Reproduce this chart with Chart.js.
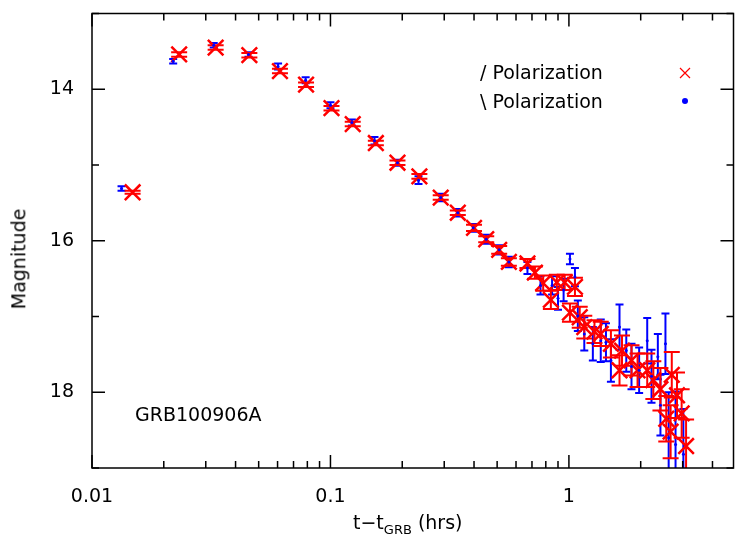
<!DOCTYPE html>
<html>
<head>
<meta charset="utf-8">
<script src="https://cdn.jsdelivr.net/npm/chart.js@4/dist/chart.umd.min.js"></script>
<style>
body{margin:0;background:#fff;font-family:"DejaVu Sans",sans-serif;}
#wrap{position:relative;width:747px;height:545px;}
.t{position:absolute;color:#000;font-size:19px;white-space:nowrap;}
</style>
</head>
<body>
<div id="wrap">
<canvas id="c" width="747" height="545"></canvas>
<div class="t" style="left:480px;top:61px;">/ Polarization</div>
<div class="t" style="left:480px;top:90px;">\ Polarization</div>
<div class="t" style="left:135px;top:403px;">GRB100906A</div>
<div class="t" style="left:-32px;top:248px;transform:rotate(-90deg);">Magnitude</div>
<div class="t" style="left:353px;top:511px;">t−t<sub style="font-size:13px">GRB</sub> (hrs)</div>
</div>
<script>
// red: "/" polarization
const redT = [0.0148,0.0232,0.033,0.0457,0.0614,0.079,0.101,0.124,0.155,0.191,0.236,0.29,0.342,0.40,0.45,0.51,0.56,0.67,0.72,0.78,0.84,0.89,0.96,1.01,1.06,1.11,1.16,1.28,1.36,1.5,1.63,1.67,1.83,1.94,2.13,2.26,2.42,2.56,2.67,2.7,2.84,2.97,3.1];
const redMag = [15.36,13.54,13.45,13.55,13.76,13.94,14.25,14.46,14.71,14.97,15.15,15.43,15.63,15.83,15.98,16.12,16.28,16.30,16.42,16.56,16.78,16.55,16.55,16.95,16.61,17.01,17.14,17.2,17.23,17.36,17.71,17.45,17.58,17.71,17.71,17.84,17.96,18.35,18.52,17.77,18.04,18.28,18.71];
const redErr = [0.02,0.03,0.03,0.03,0.03,0.03,0.03,0.03,0.03,0.03,0.03,0.03,0.03,0.04,0.04,0.05,0.05,0.06,0.08,0.1,0.12,0.1,0.1,0.12,0.12,0.14,0.15,0.15,0.16,0.18,0.2,0.2,0.2,0.22,0.22,0.25,0.28,0.3,0.35,0.3,0.3,0.32,0.35];
// blue: "\" polarization
const blueT = [0.0133,0.0219,0.0324,0.0453,0.0603,0.0787,0.1,0.123,0.153,0.191,0.234,0.29,0.342,0.397,0.45,0.51,0.56,0.67,0.76,0.85,0.9,0.95,1.01,1.06,1.09,1.16,1.26,1.36,1.43,1.5,1.63,1.74,1.83,1.97,2.13,2.22,2.36,2.42,2.54,2.62,2.8,3.02];
const blueMag = [15.31,13.63,13.42,13.54,13.70,13.88,14.21,14.44,14.68,14.97,15.2,15.43,15.63,15.83,15.98,16.12,16.28,16.36,16.59,16.59,16.76,16.65,16.24,16.48,16.99,17.23,17.36,17.32,17.34,17.58,17.14,17.45,17.66,17.71,17.32,17.79,17.53,18.17,17.36,18.6,18.69,18.82];
const blueErr = [0.03,0.03,0.03,0.03,0.04,0.04,0.04,0.04,0.05,0.04,0.05,0.05,0.05,0.05,0.06,0.06,0.07,0.08,0.12,0.12,0.15,0.15,0.07,0.12,0.2,0.22,0.22,0.28,0.25,0.28,0.3,0.28,0.3,0.3,0.3,0.35,0.3,0.4,0.4,0.6,0.7,0.6];
const xLabels = [0.01,0.1,1];
const yLabels = [14,16,18];

const pts = (t, m, e) => t.map((v, i) => ({x: v, y: m[i], e: e[i]}));

const errBars = {
  id: 'errBars',
  beforeDatasetsDraw(chart) {
    const {ctx, chartArea: a, scales: {y}} = chart;
    ctx.save();
    ctx.beginPath(); ctx.rect(a.left, a.top, a.right - a.left, a.bottom - a.top); ctx.clip();
    chart.data.datasets.forEach((ds, di) => {
      const meta = chart.getDatasetMeta(di);
      ctx.strokeStyle = ds.barColor; ctx.lineWidth = 2;
      meta.data.forEach((el, i) => {
        const d = ds.data[i];
        const y1 = y.getPixelForValue(d.y - d.e), y2 = y.getPixelForValue(d.y + d.e);
        const w = ds.capW;
        ctx.beginPath();
        ctx.moveTo(el.x, y1); ctx.lineTo(el.x, y2);
        ctx.moveTo(el.x - w, y1); ctx.lineTo(el.x + w, y1);
        ctx.moveTo(el.x - w, y2); ctx.lineTo(el.x + w, y2);
        ctx.stroke();
      });
    });
    ctx.restore();
  }
};

const frame = {
  id: 'frame',
  afterDraw(chart) {
    const {ctx, chartArea: a, scales: {x, y}} = chart;
    ctx.save();
    ctx.strokeStyle = '#000'; ctx.lineWidth = 1.5;
    ctx.strokeRect(a.left, a.top, a.right - a.left, a.bottom - a.top);
    ctx.beginPath();
    for (let dec = 0.01; dec < 10; dec *= 10) {
      for (let k = 1; k < 10; k++) {
        const v = dec * k;
        if (v < x.min || v > x.max) continue;
        const px = x.getPixelForValue(v), L = k === 1 ? 13 : 7;
        ctx.moveTo(px, a.bottom); ctx.lineTo(px, a.bottom - L);
        ctx.moveTo(px, a.top); ctx.lineTo(px, a.top + L);
      }
    }
    for (let m = 13; m <= 19; m++) {
      const py = y.getPixelForValue(m), L = m % 2 === 0 ? 13 : 7;
      ctx.moveTo(a.left, py); ctx.lineTo(a.left + L, py);
      ctx.moveTo(a.right, py); ctx.lineTo(a.right - L, py);
    }
    ctx.stroke();
    // legend markers
    ctx.strokeStyle = 'red'; ctx.lineWidth = 1.2;
    ctx.beginPath();
    ctx.moveTo(680, 68); ctx.lineTo(690, 78); ctx.moveTo(690, 68); ctx.lineTo(680, 78);
    ctx.stroke();
    ctx.fillStyle = 'blue';
    ctx.beginPath(); ctx.arc(685, 101, 3, 0, 2 * Math.PI); ctx.fill();
    ctx.restore();
  }
};

new Chart(document.getElementById('c'), {
  type: 'scatter',
  data: {
    datasets: [
      {data: pts(blueT, blueMag, blueErr), barColor: 'blue', capW: 4, pointRadius: 1.5, pointStyle: 'circle',
       backgroundColor: 'blue', borderColor: 'blue', borderWidth: 0},
      {data: pts(redT, redMag, redErr), barColor: 'red', capW: 8, pointRadius: 11, pointStyle: 'crossRot',
       borderColor: 'red', borderWidth: 2.5}
    ]
  },
  options: {
    responsive: false, animation: false,
    layout: {padding: {top: 3, right: 7, left: 0, bottom: 0}},
    plugins: {legend: {display: false}, tooltip: {enabled: false}},
    scales: {
      x: {
        type: 'logarithmic', min: 0.01, max: 4.9,
        afterFit: s => { s.height = 77; s.paddingLeft = 0; s.paddingRight = 0; },
        afterBuildTicks: s => { s.ticks = xLabels.map(v => ({value: v})); },
        grid: {display: false}, border: {display: false},
        ticks: {color: '#000', font: {size: 19, family: 'DejaVu Sans'}, padding: 10, callback: v => String(v), maxRotation: 0}
      },
      y: {
        reverse: true, min: 13, max: 19,
        afterFit: s => { s.width = 92; s.paddingTop = 0; s.paddingBottom = 0; },
        afterBuildTicks: s => { s.ticks = yLabels.map(v => ({value: v})); },
        grid: {display: false}, border: {display: false},
        ticks: {color: '#000', font: {size: 19, family: 'DejaVu Sans'}, padding: 10}
      }
    }
  },
  plugins: [errBars, frame]
});
</script>
</body>
</html>
